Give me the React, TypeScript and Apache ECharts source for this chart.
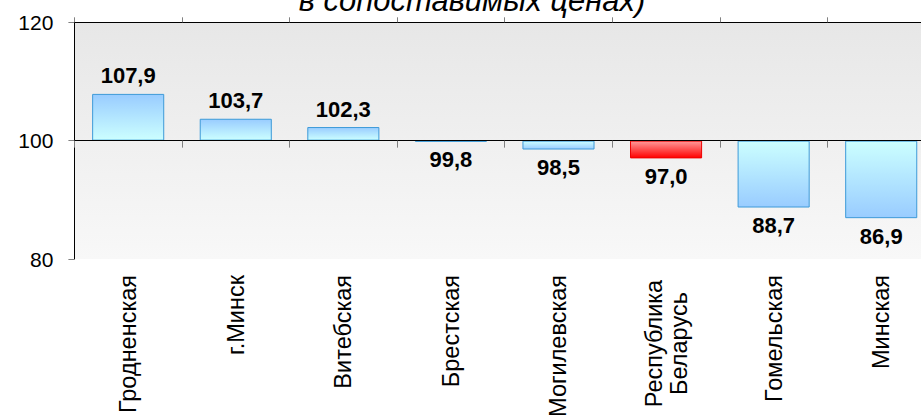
import React, { useEffect, useRef } from "react";
import * as echarts from "echarts";

const categories = [
  "Гродненская",
  "г.Минск",
  "Витебская",
  "Брестская",
  "Могилевская",
  "Республика\nБеларусь",
  "Гомельская",
  "Минская",
];
const values = [107.9, 103.7, 102.3, 99.8, 98.5, 97.0, 88.7, 86.9];
const highlightIndex = 5;
const baseline = 100;
const yMin = 80;
const yMax = 120;
const yStep = 20;
const titleText = "в сопоставимых ценах)";

const FONT = "'Liberation Sans', Arial, sans-serif";

export default function App() {
  const ref = useRef<HTMLDivElement>(null);

  useEffect(() => {
    if (!ref.current) return;
    const chart = echarts.init(ref.current, undefined, { renderer: "svg" });

    const grad = (a: string, b: string) =>
      new echarts.graphic.LinearGradient(0, 0, 0, 1, [
        { offset: 0, color: a },
        { offset: 1, color: b },
      ]);

    const seriesData = values.map((v, i) => {
      const d = v - baseline;
      const red = i === highlightIndex;
      const pos = d >= 0;
      return {
        value: d,
        itemStyle: {
          color: red
            ? grad("#ff9a9a", "#ff0000")
            : pos
            ? grad("#99ccff", "#ccffff")
            : grad("#ccffff", "#99ccff"),
          borderColor: red ? "#ee0000" : "#3d9ad8",
          borderWidth: 1,
        },
        label: { position: pos ? "top" : "bottom" },
      };
    });

    chart.setOption({
      animation: false,
      textStyle: { fontFamily: FONT },
      graphic: [
        {
          type: "text",
          x: 472,
          y: 0,
          style: {
            text: titleText,
            font: `italic 31px ${FONT}`,
            fill: "#000",
            align: "center",
            verticalAlign: "middle",
          },
        },
      ],
      grid: {
        left: 74.4,
        top: 22.3,
        right: 0,
        bottom: 157,
        outerBoundsMode: "none",
        containLabel: false,
        show: true,
        borderWidth: 0,
        backgroundColor: grad("#e7e7e7", "#f8f8f8"),
      },
      xAxis: [
        {
          type: "category",
          data: categories,
          position: "bottom",
          axisLine: { show: false, onZero: false },
          axisTick: { show: false },
          axisLabel: {
            rotate: 90,
            margin: 16,
            fontSize: 23.5,
            color: "#000",
            fontFamily: FONT,
            lineHeight: 25,
            interval: 0,
            formatter: (v: string) => {
              if (v.indexOf("\n") >= 0) {
                const [a, b] = v.split("\n");
                return `{c|${a}}\n{c|${b}}`;
              }
              return v;
            },
            rich: {
              c: {
                fontSize: 23.5,
                fontFamily: FONT,
                color: "#000",
                width: 137,
                align: "center",
                lineHeight: 25,
              },
            },
          },
        },
        {
          type: "category",
          data: categories,
          position: "bottom",
          z: 5,
          axisLine: { show: true, onZero: true, lineStyle: { color: "#000", width: 1 } },
          axisTick: { show: true, length: 7, lineStyle: { color: "#808080" } },
          axisLabel: { show: false },
        },
        {
          type: "category",
          data: categories,
          position: "top",
          z: 5,
          axisLine: { show: true, onZero: true, lineStyle: { color: "#000", width: 1 } },
          axisTick: { show: true, length: 5, lineStyle: { color: "#808080" } },
          axisLabel: { show: false },
        },
      ],
      yAxis: {
        type: "value",
        min: yMin - baseline,
        max: yMax - baseline,
        interval: yStep,
        splitLine: { show: false },
        axisLine: { show: true, lineStyle: { color: "#000" } },
        axisTick: { show: true, length: 6, lineStyle: { color: "#808080" } },
        axisLabel: {
          margin: 21,
          fontSize: 21,
          color: "#000",
          fontFamily: FONT,
          formatter: (v: number) => String(v + baseline),
        },
      },
      series: [
        {
          type: "bar",
          xAxisIndex: 0,
          yAxisIndex: 0,
          barWidth: "67%",
          data: seriesData,
          label: {
            show: true,
            distance: 7,
            fontSize: 22,
            fontWeight: "bold",
            color: "#000",
            fontFamily: FONT,
            formatter: (p: any) =>
              values[p.dataIndex].toFixed(1).replace(".", ","),
          },
        },
      ],
    });

    return () => chart.dispose();
  }, []);

  return (
    <div
      style={{
        position: "fixed",
        left: 0,
        top: 0,
        width: 921,
        height: 416,
        overflow: "hidden",
        background: "#fff",
      }}
    >
      <div ref={ref} style={{ width: 935, height: 416 }} />
    </div>
  );
}
